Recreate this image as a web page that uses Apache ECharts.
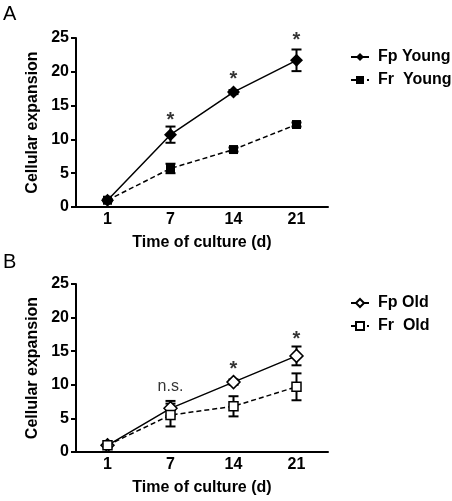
<!DOCTYPE html>
<html>
<head>
<meta charset="utf-8">
<script src="https://cdn.jsdelivr.net/npm/echarts@6/dist/echarts.min.js"></script>
<style>html,body{margin:0;padding:0;background:#fff;}#c{width:452px;height:501px;}</style>
</head>
<body>
<div id="c"></div>
<script>
// ---- data ----
var days = ['1', '7', '14', '21'];
var yTicks = [0, 5, 10, 15, 20, 25];

var fpYoung = [1.0, 10.7, 17.0, 21.7];
var fpYoungErr = [0.2, 1.2, 0.3, 1.6];
var frYoung = [1.0, 5.7, 8.5, 12.2];
var frYoungErr = [0.1, 0.7, 0.3, 0.3];

var fpOld = [1.0, 6.5, 10.4, 14.3];
var fpOldErr = [0.1, 1.1, 0.4, 1.4];
var frOld = [1.0, 5.5, 6.8, 9.7];
var frOldErr = [0.1, 1.7, 1.5, 2.0];

var annotA = ['', '*', '*', '*'];
var annotAPos = [null, 12.8, 18.9, 24.6];
var annotB = ['', 'n.s.', '*', '*'];
var annotBPos = [null, 9.8, 12.25, 16.7];

var namesA = ['Fp Young', 'Fr  Young'];
var namesB = ['Fp Old', 'Fr  Old'];
var panelLabels = ['A', 'B'];
var xTitle = 'Time of culture (d)';
var yTitle = 'Cellular expansion';

// ---- chart ----
var FONT = '"Liberation Sans", Arial, sans-serif';
var chart = echarts.init(document.getElementById('c'), null, {renderer: 'canvas'});

function errData(vals, errs) {
  return vals.map(function (v, i) { return [days[i], v, errs[i]]; });
}
function annotData(txt, pos) {
  var out = [];
  txt.forEach(function (t, i) { if (t) out.push([days[i], pos[i], t]); });
  return out;
}
function errSeries(vals, errs, idx) {
  return {
    type: 'custom', xAxisIndex: idx, yAxisIndex: idx, z: 1, silent: true,
    data: errData(vals, errs),
    renderItem: function (params, api) {
      var x = api.coord([api.value(0), 0])[0];
      var hi = api.coord([api.value(0), api.value(1) + api.value(2)])[1];
      var lo = api.coord([api.value(0), api.value(1) - api.value(2)])[1];
      var hw = 5;
      var st = {stroke: '#000', lineWidth: 2};
      return {type: 'group', children: [
        {type: 'line', shape: {x1: x, y1: hi, x2: x, y2: lo}, style: st},
        {type: 'line', shape: {x1: x - hw, y1: hi, x2: x + hw, y2: hi}, style: st},
        {type: 'line', shape: {x1: x - hw, y1: lo, x2: x + hw, y2: lo}, style: st}
      ]};
    }
  };
}
function lineSeries(name, vals, idx, symbol, size, dashed, hollow) {
  return {
    name: name, type: 'line', xAxisIndex: idx, yAxisIndex: idx, z: 3,
    data: vals, symbol: symbol, symbolSize: size, showSymbol: true,
    lineStyle: {color: '#000', width: 1.5, type: dashed ? [5, 3] : 'solid'},
    itemStyle: {color: hollow ? '#fff' : '#000', borderColor: '#000', borderWidth: hollow ? 1.5 : 0}
  };
}
function annotSeries(data, idx) {
  return {
    type: 'scatter', xAxisIndex: idx, yAxisIndex: idx, z: 5, silent: true, clip: false,
    symbolSize: 0,
    data: data.map(function (d) {
      var star = d[2] === '*';
      return {value: d, label: {fontSize: star ? 20 : 16, fontWeight: star ? 'bold' : 'normal', color: '#000'}};
    }),
    label: {show: true, position: 'inside', color: '#000', fontFamily: FONT,
      formatter: function (p) { return p.value[2]; }}
  };
}

var grids = [
  {left: 76, top: 38, width: 252, height: 169},
  {left: 76, top: 284, width: 252, height: 168}
];

function xAxis(idx) {
  return {
    type: 'category', gridIndex: idx, data: days, boundaryGap: true,
    name: xTitle, nameLocation: 'middle', nameGap: 28,
    nameTextStyle: {color: '#000', fontSize: 16, fontWeight: 'bold', fontFamily: FONT},
    axisLine: {lineStyle: {color: '#000', width: 2}},
    axisTick: {alignWithLabel: true, length: 5, lineStyle: {color: '#000', width: 2}},
    axisLabel: {color: '#000', fontSize: 16, fontWeight: 'bold', fontFamily: FONT, margin: 5},
    splitLine: {show: false}
  };
}
function yAxis(idx) {
  return {
    type: 'value', gridIndex: idx, min: yTicks[0], max: yTicks[yTicks.length - 1],
    interval: yTicks[1] - yTicks[0],
    name: yTitle, nameLocation: 'middle', nameGap: 30,
    nameTextStyle: {color: '#000', fontSize: 16, fontWeight: 'bold', fontFamily: FONT},
    axisLine: {show: true, lineStyle: {color: '#000', width: 2}},
    axisTick: {show: true, length: 5, lineStyle: {color: '#000', width: 2}},
    axisLabel: {color: '#000', fontSize: 16, fontWeight: 'bold', fontFamily: FONT, margin: 7},
    splitLine: {show: false}
  };
}
function legend(names, top) {
  return {
    orient: 'vertical', left: 345, top: top, itemWidth: 18, itemHeight: 10, itemGap: 7,
    data: names, selectedMode: false,
    textStyle: {color: '#000', fontSize: 16, fontWeight: 'bold', fontFamily: FONT, padding: [0, 0, 0, 4]}
  };
}

var option = {
  animation: false,
  backgroundColor: '#fff',
  grid: grids,
  xAxis: [xAxis(0), xAxis(1)],
  yAxis: [yAxis(0), yAxis(1)],
  legend: [legend(namesA, 44), legend(namesB, 290)],
  graphic: [
    {type: 'text', left: 3, top: 4, style: {text: panelLabels[0], font: '20px ' + FONT, fill: '#000'}},
    {type: 'text', left: 3, top: 252, style: {text: panelLabels[1], font: '20px ' + FONT, fill: '#000'}}
  ],
  series: [
    errSeries(fpYoung, fpYoungErr, 0),
    errSeries(frYoung, frYoungErr, 0),
    lineSeries(namesA[0], fpYoung, 0, 'diamond', 13, false, false),
    lineSeries(namesA[1], frYoung, 0, 'rect', 9, true, false),
    annotSeries(annotData(annotA, annotAPos), 0),
    errSeries(fpOld, fpOldErr, 1),
    errSeries(frOld, frOldErr, 1),
    lineSeries(namesB[0], fpOld, 1, 'diamond', 13, false, true),
    lineSeries(namesB[1], frOld, 1, 'rect', 9, true, true),
    annotSeries(annotData(annotB, annotBPos), 1)
  ]
};
chart.setOption(option);
</script>
</body>
</html>
